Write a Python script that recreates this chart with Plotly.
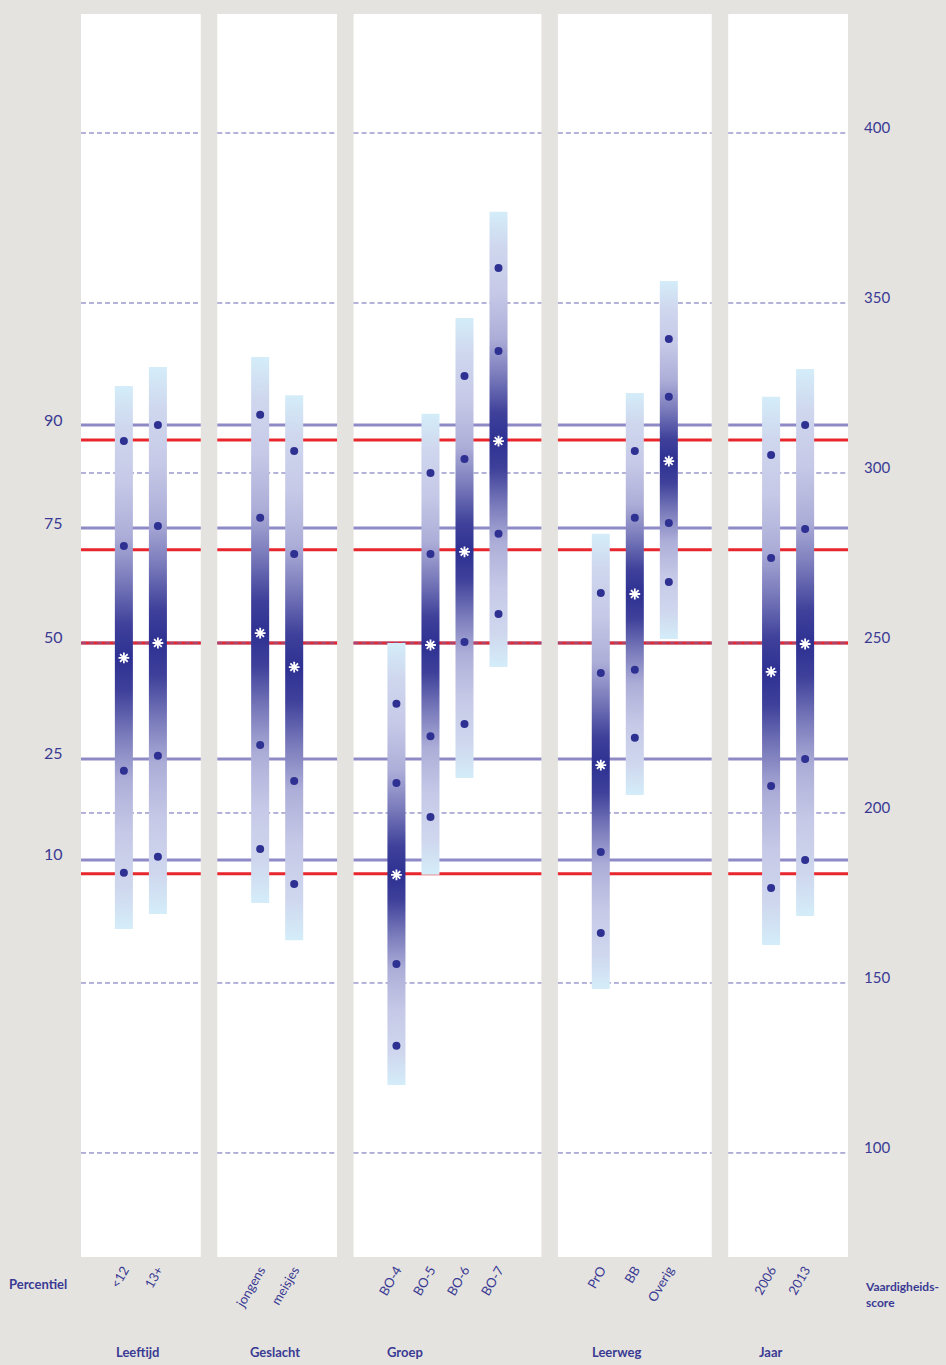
import plotly.graph_objects as go
from plotly.subplots import make_subplots

# ---------------- data ----------------
groups = ["Leeftijd", "Geslacht", "Groep", "Leerweg", "Jaar"]
categories = [["&lt;12", "13+"], ["jongens", "meisjes"],
              ["BO-4", "BO-5", "BO-6", "BO-7"], ["PrO", "BB", "Overig"],
              ["2006", "2013"]]
bar_low = [[165.9, 170.3], [173.5, 162.6], [120.0, 181.8, 210.3, 242.9],
           [148.2, 205.3, 251.2], [161.2, 169.7]]
bar_high = [[325.6, 331.2], [334.1, 322.9], [250.0, 317.4, 345.6, 376.8],
            [282.1, 323.5, 356.5], [322.4, 330.6]]
p10 = [[182.4, 187.1], [189.4, 179.1], [131.5, 198.8, 226.2, 258.5],
       [164.7, 222.1, 267.9], [177.9, 186.2]]
p25 = [[212.4, 216.8], [220.0, 209.4], [155.6, 222.6, 250.3, 282.1],
       [188.5, 242.1, 285.3], [207.9, 215.9]]
p75 = [[278.5, 284.4], [286.8, 276.2], [208.8, 276.2, 304.1, 335.9],
       [241.2, 286.8, 322.4], [275.0, 283.5]]
p90 = [[309.4, 314.1], [317.1, 306.5], [232.1, 300.0, 328.5, 360.3],
       [264.7, 306.5, 339.4], [305.3, 314.1]]
means = [[245.6, 250.0], [252.9, 242.9], [181.8, 249.4, 276.8, 309.4],
         [214.1, 264.4, 303.5], [241.5, 249.7]]

pct_labels = ["90", "75", "50", "25", "10"]
pct_scores = [314.1, 283.8, 250.0, 215.9, 186.2]
ref_scores = [309.7, 277.4, 250.0, 182.1]
score_ticks = [100, 150, 200, 250, 300, 350, 400]

# ---------------- styling ----------------
W, H = 946, 1365
ML, MR, MT, MB = 81, 98, 14, 108
PW = W - ML - MR
PH = H - MT - MB
PAD = 1.26
HW = 0.265
YR = [69.4, 435.0]
TXT = "#3a3a94"
DARK = "#2e3192"
FONT = "Lato"
group_label_px = [137, 275, 405, 616, 771]

grad_f = [0, 0.15, 0.35, 0.55, 0.72, 0.88, 1.0]
grad_c = ["#d4edf9", "#cfd7ee", "#c6c9e7", "#adaed8", "#7879ba", "#3e409a", "#2e3192"]

widths = [len(c) - 1 + 2 * PAD for c in categories]
gap = 16.5 / PW
fig = make_subplots(rows=1, cols=len(groups), column_widths=widths,
                    horizontal_spacing=gap, shared_yaxes=False)


def px2paper_x(px):
    return (px - ML) / PW


def px2paper_y(py):
    return (H - MB - py) / PH


for gi, cats in enumerate(categories):
    col = gi + 1
    for ci in range(len(cats)):
        lo, hi, m = bar_low[gi][ci], bar_high[gi][ci], means[gi][ci]
        p = (m - lo) / (hi - lo)
        stops = []
        for f, c in zip(grad_f, grad_c):
            stops.append([f * p, c])
        for f, c in reversed(list(zip(grad_f[:-1], grad_c[:-1]))):
            stops.append([1 - f * (1 - p), c])
        fig.add_trace(go.Scatter(
            x=[ci - HW, ci + HW, ci + HW, ci - HW, ci - HW],
            y=[lo, lo, hi, hi, lo], mode="lines", line=dict(width=0),
            fill="toself",
            fillgradient=dict(type="vertical", colorscale=stops, start=lo, stop=hi),
            hoverinfo="skip", showlegend=False), row=1, col=col)
        fig.add_trace(go.Scatter(
            x=[ci] * 4, y=[p10[gi][ci], p25[gi][ci], p75[gi][ci], p90[gi][ci]],
            mode="markers", marker=dict(size=8, color=DARK),
            showlegend=False), row=1, col=col)
        fig.add_trace(go.Scatter(
            x=[ci], y=[m], mode="markers",
            marker=dict(symbol="asterisk-open", size=9, color="white",
                        line=dict(color="white", width=1.8)),
            showlegend=False), row=1, col=col)

    ax = "" if col == 1 else str(col)
    fig.update_xaxes(range=[-PAD, len(cats) - 1 + PAD], tickvals=list(range(len(cats))),
                     ticktext=cats, tickangle=-60, showgrid=False, zeroline=False,
                     showline=False, ticks="", ticklabelstandoff=2,
                     tickfont=dict(family=FONT, size=13, color=TXT), row=1, col=col)
    fig.update_yaxes(range=YR, showgrid=False, zeroline=False, showticklabels=False,
                     showline=False, ticks="", row=1, col=col)

    xd = f"x{ax} domain"
    yy = f"y{ax}"
    for s in pct_scores:
        fig.add_shape(type="line", xref=xd, yref=yy, x0=0, x1=1, y0=s, y1=s,
                      line=dict(color="#8e8ac6", width=3), layer="below")
    for s in ref_scores:
        fig.add_shape(type="line", xref=xd, yref=yy, x0=0, x1=1, y0=s, y1=s,
                      line=dict(color="#e8262d", width=3), layer="below")
    for s in score_ticks:
        fig.add_shape(type="line", xref=xd, yref=yy, x0=0, x1=1, y0=s, y1=s,
                      line=dict(color="#6a67b0", width=1, dash="5px,3px"), layer="below")

    # group label
    fig.add_annotation(x=px2paper_x(group_label_px[gi]), y=px2paper_y(1352),
                       xref="paper", yref="paper",
                       text=f"<b>{groups[gi]}</b>", showarrow=False,
                       font=dict(family=FONT, size=13, color=TXT),
                       xanchor="center", yanchor="middle")

# left percentile labels
for lab, s in zip(pct_labels, pct_scores):
    fig.add_annotation(x=px2paper_x(65), y=s, xref="paper", yref="y", text=lab,
                       showarrow=False, xanchor="right", yanchor="middle", yshift=6,
                       font=dict(family=FONT, size=16, color=TXT))
# right score labels
for s in score_ticks:
    fig.add_annotation(x=px2paper_x(862), y=s, xref="paper", yref="y", text=str(s),
                       showarrow=False, xanchor="left", yanchor="middle", yshift=6,
                       font=dict(family=FONT, size=15, color=TXT))

fig.add_annotation(x=px2paper_x(38), y=px2paper_y(1284), xref="paper", yref="paper",
                   text="<b>Percentiel</b>", showarrow=False, xanchor="center",
                   yanchor="middle", font=dict(family=FONT, size=13, color=TXT))
fig.add_annotation(x=px2paper_x(863), y=px2paper_y(1277), xref="paper", yref="paper",
                   text="<b>Vaardigheids-<br>score</b>", showarrow=False, xanchor="left",
                   yanchor="top", align="left",
                   font=dict(family=FONT, size=12, color=TXT))

fig.update_layout(width=W, height=H, margin=dict(l=ML, r=MR, t=MT, b=MB, pad=0),
                  paper_bgcolor="#e4e3df", plot_bgcolor="white", showlegend=False)

fig.write_html("out.html", config={"displayModeBar": False},
               post_script="document.body.style.margin='0px';"
                           "document.body.style.padding='0px';"
                           "document.body.style.background='#e4e3df';")
